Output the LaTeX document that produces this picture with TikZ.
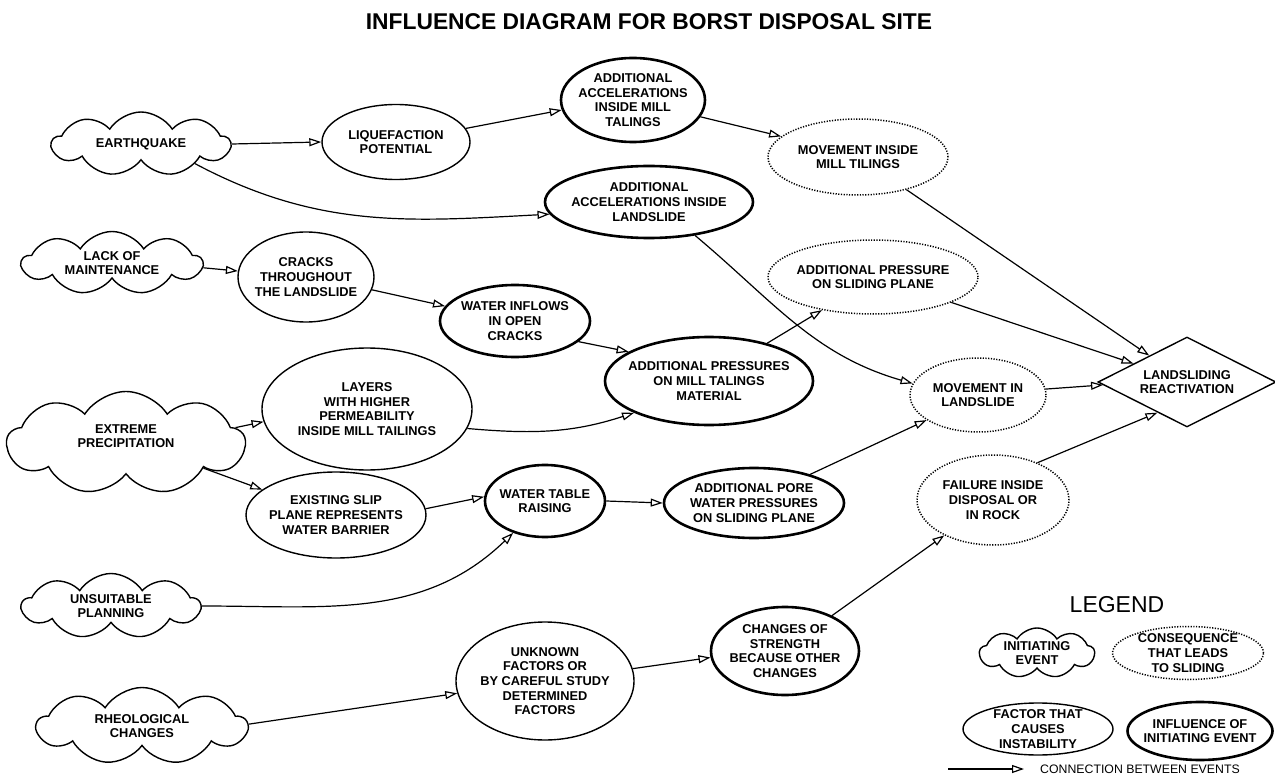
\documentclass[tikz,border=0pt]{standalone}
\usepackage{fontspec}
\setmainfont{Liberation Sans}
\usetikzlibrary{shapes.geometric,shapes.symbols,arrows.meta}
\begin{document}
\begin{tikzpicture}[x=1pt,y=1pt,
  lbl/.style={align=center, inner sep=0pt, font=\fontsize{12.8}{14.6}\selectfont\bfseries},
  shp/.style={draw, inner sep=0pt},
  initev/.style={shp, cloud, line width=1.4pt, cloud puffs=9, cloud puff arc=115, cloud ignores aspect},
  factor/.style={shp, ellipse, line width=1.4pt},
  influ/.style={shp, ellipse, line width=2.6pt},
  conseq/.style={shp, ellipse, line width=1.5pt, dash pattern=on 1.2pt off 1.5pt},
  goal/.style={shp, diamond, line width=1.4pt},
  conn/.style={draw, line width=1.2pt, -{Triangle[open, length=12pt, width=8pt, line width=1.2pt]}},
]
\useasboundingbox (0,0) rectangle (1275,-778);

\node[font=\fontsize{22.8}{26}\selectfont\bfseries] (title) at (649,-22) {INFLUENCE DIAGRAM FOR BORST DISPOSAL SITE};

% shapes
\node[initev, minimum width=178, minimum height=64] (eq) at (141,-144) {};
\node[factor, minimum width=148, minimum height=75] (liq) at (396,-142) {};
\node[influ, minimum width=144, minimum height=84] (aam) at (633,-100) {};
\node[conseq, minimum width=180, minimum height=76] (mim) at (858,-157) {};
\node[influ, minimum width=208, minimum height=72] (aal) at (649,-202) {};
\node[initev, minimum width=180, minimum height=63] (lack) at (112,-263) {};
\node[factor, minimum width=136, minimum height=90] (cracks) at (306,-277) {};
\node[conseq, minimum width=210, minimum height=74] (aps) at (873,-277) {};
\node[influ, minimum width=150, minimum height=72] (wio) at (515,-321) {};
\node[influ, minimum width=208, minimum height=88] (apm) at (709,-381) {};
\node[factor, minimum width=210, minimum height=122] (layers) at (367,-409) {};
\node[initev, minimum width=238, minimum height=103] (extreme) at (126,-443) {};
\node[conseq, minimum width=136, minimum height=74] (ml) at (978,-395) {};
\node[goal, minimum width=178, minimum height=90] (lr) at (1187,-382) {};
\node[conseq, minimum width=152, minimum height=90] (failure) at (993,-500) {};
\node[factor, minimum width=180, minimum height=86] (existing) at (336,-515) {};
\node[influ, minimum width=120, minimum height=72] (wtr) at (545,-501) {};
\node[influ, minimum width=180, minimum height=70] (pore) at (754,-503) {};
\node[initev, minimum width=178, minimum height=65] (unsuit) at (111,-606) {};
\node[initev, minimum width=210, minimum height=77] (rheo) at (142,-726) {};
\node[factor, minimum width=178, minimum height=118] (unknown) at (545,-681) {};
\node[influ, minimum width=148, minimum height=88] (changes) at (785,-651) {};

% texts
\node[lbl] (eq-t) at (eq) {EARTHQUAKE};
\node[lbl] (liq-t) at (liq) {LIQUEFACTION\\POTENTIAL};
\node[lbl] (aam-t) at (aam) {ADDITIONAL\\ACCELERATIONS\\INSIDE MILL\\TALINGS};
\node[lbl] (mim-t) at (mim) {MOVEMENT INSIDE\\MILL TILINGS};
\node[lbl] (aal-t) at (aal) {ADDITIONAL\\ACCELERATIONS INSIDE\\LANDSLIDE};
\node[lbl] (lack-t) at (lack) {LACK OF\\MAINTENANCE};
\node[lbl] (cracks-t) at (cracks) {CRACKS\\THROUGHOUT\\THE LANDSLIDE};
\node[lbl] (aps-t) at (aps) {ADDITIONAL PRESSURE\\ON SLIDING PLANE};
\node[lbl] (wio-t) at (wio) {WATER INFLOWS\\IN OPEN\\CRACKS};
\node[lbl] (apm-t) at (apm) {ADDITIONAL PRESSURES\\ON MILL TALINGS\\MATERIAL};
\node[lbl] (layers-t) at (layers) {LAYERS\\WITH HIGHER\\PERMEABILITY\\INSIDE MILL TAILINGS};
\node[lbl] (extreme-t) at (126,-436) {EXTREME\\PRECIPITATION};
\node[lbl] (ml-t) at (ml) {MOVEMENT IN\\LANDSLIDE};
\node[lbl] (lr-t) at (lr) {LANDSLIDING\\REACTIVATION};
\node[lbl] (failure-t) at (failure) {FAILURE INSIDE\\DISPOSAL OR\\IN ROCK};
\node[lbl] (existing-t) at (existing) {EXISTING SLIP\\PLANE REPRESENTS\\WATER BARRIER};
\node[lbl] (wtr-t) at (wtr) {WATER TABLE\\RAISING};
\node[lbl] (pore-t) at (pore) {ADDITIONAL PORE\\WATER PRESSURES\\ON SLIDING PLANE};
\node[lbl] (unsuit-t) at (unsuit) {UNSUITABLE\\PLANNING};
\node[lbl] (rheo-t) at (rheo) {RHEOLOGICAL\\CHANGES};
\node[lbl] (unknown-t) at (unknown) {UNKNOWN\\FACTORS OR\\BY CAREFUL STUDY\\DETERMINED\\FACTORS};
\node[lbl] (changes-t) at (changes) {CHANGES OF\\STRENGTH\\BECAUSE OTHER\\CHANGES};

% connectors
\draw[conn] (eq.east) -- (liq.west);
\draw[conn] (eq.-20) to[out=-28, in=183] (aal.187);
\draw[conn] (liq.11) -- (aam.188);
\draw[conn] (aam.-14) -- (mim.165);
\draw[conn] (mim.-34) -- (lr.145);
\draw[conn] (aal.-36) to[out=-40, in=164] (ml.170);
\draw[conn] (lack.-3) -- (cracks.175);
\draw[conn] (cracks.-11) -- (wio.168);
\draw[conn] (wio.-18) -- (apm.160);
\draw[conn] (apm.33) -- (aps.213);
\draw[conn] (aps.-18) -- (lr.161);
\draw[conn] (ml.5) -- (lr.182);
\draw[conn] (failure.40) -- (lr.226);
\draw[conn] (extreme.8) -- (layers.187);
\draw[conn] (layers.-11) to[out=-5, in=198] (apm.203);
\draw[conn] (extreme.-18) -- (existing.161);
\draw[conn] (existing.4) -- (wtr.176);
\draw[conn] (unsuit.0) to[out=0, in=224] (wtr.225);
\draw[conn] (wtr.east) -- (pore.west);
\draw[conn] (pore.27) -- (ml.206);
\draw[conn] (rheo.1) -- (unknown.188);
\draw[conn] (unknown.8) -- (changes.185);
\draw[conn] (changes.37) -- (failure.216);

% legend
\node[font=\fontsize{23}{26}\selectfont] (legend) at (1117,-605) {LEGEND};
\node[initev, minimum width=115, minimum height=50] (lgc) at (1037,-653) {};
\node[lbl] (lgc-t) at (lgc) {INITIATING\\EVENT};
\node[conseq, minimum width=151, minimum height=53] (lgs) at (1188,-653) {};
\node[lbl] (lgs-t) at (lgs) {CONSEQUENCE\\THAT LEADS\\TO SLIDING};
\node[factor, minimum width=150, minimum height=52] (lgf) at (1038,-729) {};
\node[lbl] (lgf-t) at (lgf) {FACTOR THAT\\CAUSES\\INSTABILITY};
\node[influ, minimum width=145, minimum height=58] (lgi) at (1200,-731) {};
\node[lbl] (lgi-t) at (lgi) {INFLUENCE OF\\INITIATING EVENT};
\coordinate (la) at (948,-769);
\coordinate (lb) at (1024,-769);
\draw[conn] (la) -- (lb);
\node[anchor=west, inner sep=0pt, font=\fontsize{12.3}{14}\selectfont] (lgtxt) at (1040,-769) {CONNECTION BETWEEN EVENTS};
\end{tikzpicture}
\end{document}
